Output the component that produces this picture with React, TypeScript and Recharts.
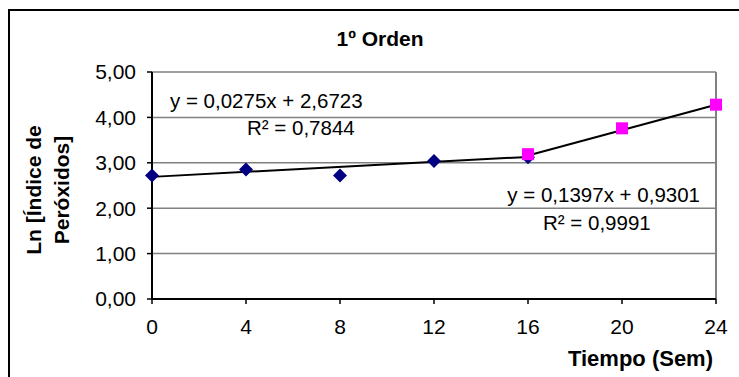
import React from "react";
import {
  ComposedChart,
  Scatter,
  Line,
  XAxis,
  YAxis,
  CartesianGrid,
  ReferenceLine,
  Label,
} from "recharts";

// semanas / Ln del índice de peróxidos
const weeksA = [0, 4, 8, 12, 16];
const lnA = [2.72, 2.85, 2.72, 3.04, 3.12];
const weeksB = [16, 20, 24];
const lnB = [3.19, 3.76, 4.28];

// líneas de tendencia (extremos)
const trend1X = [0, 16];
const trend1Y = [2.69, 3.13];
const trend2X = [16, 24];
const trend2Y = [3.16, 4.28];

const xTicks = [0, 4, 8, 12, 16, 20, 24];
const yTicks = [0, 1, 2, 3, 4, 5];

const FONT = "'Liberation Sans', Arial, sans-serif";

const pts = (xs: number[], ys: number[]) => xs.map((x, i) => ({ x, y: ys[i] }));

const dataA = pts(weeksA, lnA);
const dataB = pts(weeksB, lnB);
const trend1 = pts(trend1X, trend1Y);
const trend2 = pts(trend2X, trend2Y);

const Diamond = ({ cx, cy }: any) => (
  <polygon
    points={`${cx},${cy - 7} ${cx + 7},${cy} ${cx},${cy + 7} ${cx - 7},${cy}`}
    fill="#000080"
  />
);

const Square = ({ cx, cy }: any) => (
  <rect x={cx - 6} y={cy - 6} width={12} height={12} fill="#FF00FF" />
);

const fmt = (v: number) => v.toFixed(2).replace(".", ",");

const XTitle = ({ viewBox }: any) => (
  <text
    x={viewBox.x + viewBox.width - 3}
    y={viewBox.y + 67}
    textAnchor="end"
    fontFamily={FONT}
    fontWeight="bold"
    fontSize={22}
    fill="#000"
  >
    Tiempo (Sem)
  </text>
);

const YTitle = () => (
  <g fontFamily={FONT} fontWeight="bold" fontSize={21} fill="#000">
    <text x={33} y={190} transform="rotate(-90 33 190)" textAnchor="middle" dominantBaseline="central">
      Ln [Índice de
    </text>
    <text x={61} y={190} transform="rotate(-90 61 190)" textAnchor="middle" dominantBaseline="central">
      Peróxidos]
    </text>
  </g>
);

export default function App() {
  return (
    <div
      style={{
        position: "absolute",
        left: 0,
        top: 0,
        width: 739,
        height: 377,
        overflow: "hidden",
        background: "#fff",
      }}
    >
      <div
        style={{
          position: "absolute",
          left: 8,
          top: 9,
          width: 800,
          height: 500,
          borderTop: "2px solid #000",
          borderLeft: "2px solid #000",
        }}
      />
      <div style={{ position: "absolute", left: 0, top: 0 }}>
        <ComposedChart
          width={739}
          height={377}
          margin={{ top: 72, right: 23, bottom: 0, left: 0 }}
        >
          <CartesianGrid vertical={false} stroke="#808080" strokeWidth={1.5} />
          <ReferenceLine x={24} stroke="#808080" strokeWidth={2} />
          <XAxis
            type="number"
            dataKey="x"
            domain={[0, 24]}
            ticks={xTicks}
            height={78}
            axisLine={{ stroke: "#000", strokeWidth: 2 }}
            tickLine={{ stroke: "#000", strokeWidth: 1.5 }}
            tickSize={5}
            tickMargin={15}
            tick={{ fill: "#000", fontSize: 21, fontFamily: FONT }}
          >
            <Label content={<XTitle />} />
          </XAxis>
          <YAxis
            type="number"
            dataKey="y"
            domain={[0, 5]}
            ticks={yTicks}
            width={152}
            axisLine={{ stroke: "#000", strokeWidth: 2 }}
            tickLine={{ stroke: "#000", strokeWidth: 1.5 }}
            tickSize={5}
            tickMargin={11}
            tickFormatter={fmt}
            tick={{ fill: "#000", fontSize: 21, fontFamily: FONT }}
          />
          <Scatter data={dataA} shape={<Diamond />} isAnimationActive={false} />
          <Scatter data={dataB} shape={<Square />} isAnimationActive={false} />
          <Line
            data={trend1}
            dataKey="y"
            stroke="#000"
            strokeWidth={2}
            dot={false}
            activeDot={false}
            isAnimationActive={false}
          />
          <Line
            data={trend2}
            dataKey="y"
            stroke="#000"
            strokeWidth={2}
            dot={false}
            activeDot={false}
            isAnimationActive={false}
          />
          <text x={380} y={46} textAnchor="middle" fontFamily={FONT} fontWeight="bold" fontSize={21} fill="#000">
            1º Orden
          </text>
          <g fontFamily={FONT} fontSize={20.5} fill="#000">
            <text x={170} y={108}>y = 0,0275x + 2,6723</text>
            <text x={247} y={135}>R² = 0,7844</text>
            <text x={700} y={202} textAnchor="end">y = 0,1397x + 0,9301</text>
            <text x={543} y={230}>R² = 0,9991</text>
          </g>
          <YTitle />
        </ComposedChart>
      </div>
    </div>
  );
}
